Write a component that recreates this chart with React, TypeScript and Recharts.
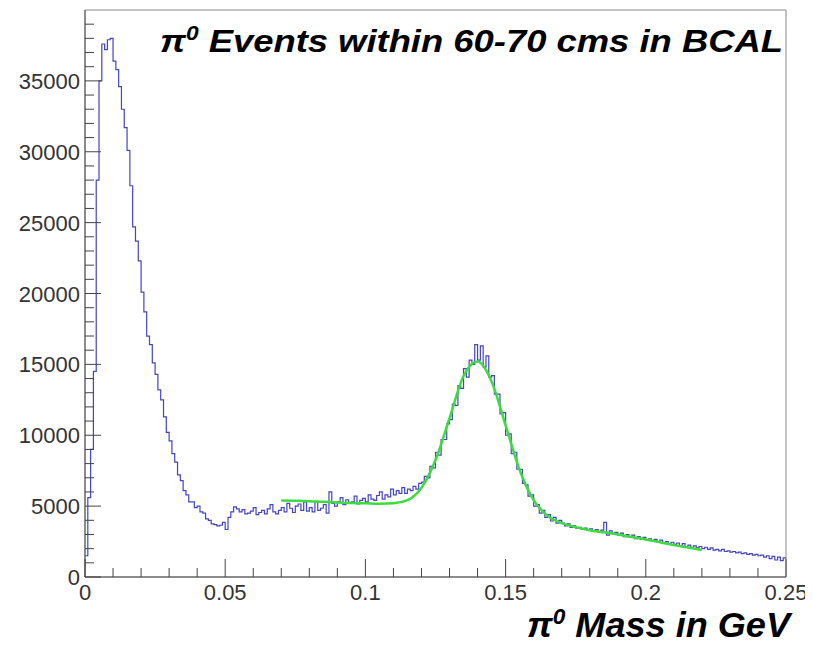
import React from 'react';
import {
  ComposedChart,
  Customized,
  Line,
  ReferenceArea,
  XAxis,
  YAxis,
} from 'recharts';

// pi0 invariant mass histogram, 1 MeV bins from 0 to 0.25 GeV
const binWidth = 0.001;
const counts = [
  1500, 5600, 9000, 14500, 28000, 35000, 37600, 37200, 37900, 38000,
  36400, 35800, 34600, 33000, 31700, 30100, 27600, 24700, 23700, 22300,
  20100, 18700, 17000, 16400, 15100, 14300, 13200, 12500, 11300, 10200,
  9600, 8700, 8100, 7200, 6800, 6100, 5800, 5300, 5300, 4900,
  5000, 4600, 4500, 4100, 4000, 3750, 3700, 3600, 3650, 3850,
  3350, 4200, 4600, 4950, 4800, 4600, 4750, 4450, 4500, 4650,
  4900, 4400, 4550, 4700, 4450, 4800, 5100, 4600, 4450, 4700,
  4900, 4600, 5200, 4850, 4550, 5000, 5150, 4700, 5300, 4650,
  4900, 4600, 5300, 4700, 4850, 5100, 4500, 6000, 5200, 5000,
  5300, 5600, 5100, 5450, 5200, 5300, 5700, 5150, 5400, 5550,
  5300, 5800, 5500, 5400, 5750, 6000, 5500, 5800, 5650, 6200,
  5800, 6100, 5900, 6300, 5900, 6200, 6100, 6400, 6200, 6600,
  6700, 7100, 7000, 7800, 7700, 8800, 8600, 9700, 9700, 10800,
  11100, 12200, 12100, 13500, 13300, 14700, 14100, 15300, 15000, 16400,
  15300, 16300, 14800, 15600, 14100, 14200, 12900, 12900, 11500, 11600,
  10000, 10100, 8700, 8800, 7600, 7600, 6600, 6500, 5700, 5800,
  5000, 5100, 4500, 4700, 4200, 4400, 3950, 4200, 3800, 4000,
  3800, 3600, 3750, 3500, 3600, 3450, 3500, 3350, 3450, 3300,
  3400, 3250, 3350, 3150, 3300, 3850, 2950, 3250, 3050, 3150,
  2950, 3100, 2850, 3000, 2800, 2950, 2700, 2850, 2650, 2800,
  2600, 2700, 2550, 2650, 2450, 2600, 2400, 2500, 2350, 2450,
  2300, 2400, 2200, 2350, 2150, 2250, 2100, 2200, 2050, 2150,
  2000, 2100, 1950, 2050, 1900, 1950, 1850, 1950, 1800, 1850,
  1750, 1800, 1700, 1750, 1650, 1700, 1600, 1650, 1550, 1600,
  1500, 1550, 1400, 1500, 1300, 1450, 1200, 1400, 1150, 1350,
];

// fitted curve (background + gaussian)
const fitX = [
  0.07, 0.075, 0.08, 0.085, 0.09, 0.095, 0.1, 0.105, 0.11, 0.115, 0.12,
  0.125, 0.13, 0.135, 0.14, 0.145, 0.15, 0.155, 0.16, 0.165, 0.17, 0.175,
  0.18, 0.185, 0.19, 0.195, 0.2, 0.205, 0.21, 0.215, 0.22,
];
const fitY = [
  5400, 5380, 5350, 5300, 5260, 5220, 5200, 5170, 5200, 5420, 6300,
  8250, 11200, 14180, 15200, 13800, 10700, 7550, 5420, 4310, 3800, 3520,
  3300, 3150, 3000, 2820, 2650, 2450, 2250, 2080, 1900,
];

const xMajorTicks = [0, 0.05, 0.1, 0.15, 0.2, 0.25];
const xTickLabels = ['0', '0.05', '0.1', '0.15', '0.2', '0.25'];
const yMajorTicks = [0, 5000, 10000, 15000, 20000, 25000, 30000, 35000];
const yTickLabels = ['0', '5000', '10000', '15000', '20000', '25000', '30000', '35000'];

const histRows = counts.map((count, i) => ({ x: i * binWidth, count }));
histRows.push({ x: counts.length * binWidth, count: counts[counts.length - 1] });
const fitRows = fitX.map((x, i) => ({ x, fit: fitY[i] }));

const xMinorTicks = Array.from({ length: 26 }, (_, i) => i / 100);
const yMinorTicks = Array.from({ length: 40 }, (_, i) => i * 1000);

const FONT = '"Liberation Sans", Arial, Helvetica, sans-serif';
const TICK_COLOR = '#444';

const majorIndex = (v: number, majors: number[]) =>
  majors.findIndex((m) => Math.abs(m - v) < 1e-9);

const XTick = (props: any) => {
  const { x, y, payload } = props;
  const idx = majorIndex(payload.value, xMajorTicks);
  return (
    <g>
      <line x1={x} x2={x} y1={y} y2={y - (idx >= 0 ? 18 : 9)} stroke={TICK_COLOR} />
      {idx >= 0 && (
        <text x={x} y={y + 23} textAnchor="middle" fontFamily={FONT} fontSize={22} fill="#333">
          {xTickLabels[idx]}
        </text>
      )}
    </g>
  );
};

const YTick = (props: any) => {
  const { x, y, payload } = props;
  const idx = majorIndex(payload.value, yMajorTicks);
  return (
    <g>
      <line x1={x} x2={x + (idx >= 0 ? 16 : 9)} y1={y} y2={y} stroke={TICK_COLOR} />
      {idx >= 0 && (
        <text x={x - 5} y={y + 8} textAnchor="end" fontFamily={FONT} fontSize={22} fill="#333">
          {yTickLabels[idx]}
        </text>
      )}
    </g>
  );
};

const Titles = () => (
  <g fontFamily={FONT} fontWeight="bold" fontStyle="italic" fill="#000">
    <text x={160} y={52} fontSize={32} textLength={623} lengthAdjust="spacingAndGlyphs">
      π<tspan dy={-12} fontSize={20}>0</tspan>
      <tspan dy={12}> Events within 60-70 cms in BCAL</tspan>
    </text>
    <text x={527} y={637} fontSize={35} textLength={263} lengthAdjust="spacingAndGlyphs">
      π<tspan dy={-13} fontSize={22}>0</tspan>
      <tspan dy={13}> Mass in GeV</tspan>
    </text>
  </g>
);

export default function App() {
  return (
    <div style={{ margin: -8, width: 813, height: 645 }}>
      <ComposedChart
        width={813}
        height={645}
        margin={{ top: 10, right: 27, bottom: 0, left: 0 }}
      >
        <XAxis
          dataKey="x"
          type="number"
          domain={[0, 0.25]}
          ticks={xMinorTicks}
          interval={0}
          tickSize={0}
          tickMargin={0}
          tickLine={false}
          tick={XTick}
          height={68}
          axisLine={{ stroke: '#555' }}
          allowDuplicatedCategory={false}
        />
        <YAxis
          type="number"
          domain={[0, 40000]}
          ticks={yMinorTicks}
          interval={0}
          tickSize={0}
          tickMargin={0}
          tickLine={false}
          tick={YTick}
          width={85}
          axisLine={{ stroke: '#555' }}
        />
        <ReferenceArea x1={0} x2={0.25} y1={0} y2={40000} fill="none" stroke="#888" />
        <Line
          data={histRows}
          dataKey="count"
          type="stepAfter"
          stroke="#4444c4"
          strokeWidth={1.2}
          dot={false}
          isAnimationActive={false}
        />
        <Line
          data={fitRows}
          dataKey="fit"
          type="monotone"
          stroke="#3ddc3d"
          strokeWidth={2.5}
          dot={false}
          isAnimationActive={false}
        />
        <Customized component={Titles} />
      </ComposedChart>
    </div>
  );
}
